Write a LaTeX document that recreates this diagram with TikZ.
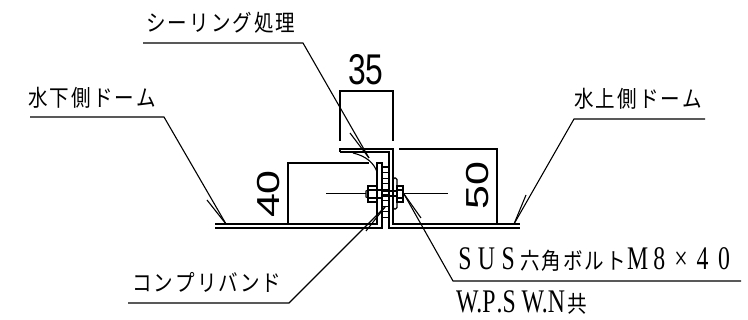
\documentclass[tikz,border=0pt]{standalone}
\usepackage{fontspec}
\setmainfont{Liberation Serif}
\newfontfamily\jpfont[FakeStretch=0.85]{Noto Sans CJK JP}
\newfontfamily\dimfont{Liberation Sans}
\newfontfamily\latinfont[FakeStretch=0.72]{Liberation Serif}
\makeatletter
\newcommand{\spreadtext}[2]{\@tfor\sp@ch:=#2\do{\makebox[#1]{\sp@ch}}}
\makeatother
\newcommand{\jpsize}{\fontsize{23}{23}\selectfont\jpfont}
\newcommand{\latinsize}{\fontsize{33}{33}\selectfont\latinfont}
\tikzset{
    leader/.style={draw, line width=1.1pt, line join=miter},
    thick line/.style={draw, line width=1.4pt},
    thin line/.style={draw, line width=1.1pt},
    label/.style={inner sep=0pt, anchor=west, font=\jpsize},
    dimtext/.style={inner sep=0pt, font=\fontsize{43}{43}\selectfont\dimfont},
}
\begin{document}
\begin{tikzpicture}[x=1pt,y=-1pt]
    \useasboundingbox (0,0) rectangle (748,320);
    % labels
    \node [label] (seal) at (145,23) {\spreadtext{21.6pt}{シーリング処理}};
    \node [label] (low) at (27,98) {\spreadtext{21.6pt}{水下側ドーム}};
    \node [label] (high) at (573,99) {\spreadtext{21.6pt}{水上側ドーム}};
    \node [label] (band) at (131,282) {\spreadtext{21.6pt}{コンプリバンド}};
    \node [label] (bolt) at (454,260) {\latinsize\spreadtext{21.6pt}{SUS}\jpsize\spreadtext{21.6pt}{六角ボルト}\latinsize\spreadtext{21.6pt}{M8×40}};
    \node [label] (wp) at (456,303) {\latinsize W.P\kern1pt.S\ W.N\kern2pt\jpsize 共};
    \node [dimtext, xscale=0.74] (d35) at (366,70) {35};
    \node [dimtext, xscale=0.74, rotate=90] (d40) at (268.5,194) {40};
    \node [dimtext, xscale=0.74, rotate=90] (d50) at (477.5,185.5) {50};
    % leaders
    \draw [leader] (143,43) coordinate (sealA) -- (303,43) coordinate (sealB) -- (369,158) coordinate (sealC);
    \draw [leader] (350,133) -- (sealC);
    \draw [leader] (30,117) coordinate (lowA) -- (164,117) coordinate (lowB) -- (226,224) coordinate (lowC);
    \draw [leader] (207,200) -- (lowC);
    \draw [leader] (705,119) coordinate (highA) -- (574,119) coordinate (highB) -- (514,224) coordinate (highC);
    \draw [leader] (526,195) -- (highC);
    \draw [leader] (128,303) coordinate (bandA) -- (289,303) coordinate (bandB) -- (385,207) coordinate (bandC);
    \draw [leader] (366,231) -- (bandC);
    \draw [leader] (741,281) coordinate (boltA) -- (453,281) coordinate (boltB) -- (404,194) coordinate (boltC);
    \draw [leader] (421,218) -- (boltC);
    % dimension lines
    \draw [thin line] (340,141) -- (340,91) -- (393,91) -- (393,141);
    \draw [thin line] (288,224) -- (288,163) -- (369,163);
    \draw [thin line] (399,149) -- (497,149) -- (497,224);
    \draw [thin line] (326,193.5) -- (366,193.5);
    \draw [thin line] (404,193.5) -- (448,193.5);
    % plates
    \draw [thick line] (215,224) -- (377,224) -- (377,163) -- (382,163) -- (382,228) -- (215,228);
    \draw [thick line] (340,152) -- (340,149) -- (393,149) -- (393,224) -- (520,224);
    \draw [thick line] (340,152) -- (389,152) -- (389,228) -- (520,228);
    \draw [thin line] (353,153) .. controls (366,156) and (374,163) .. (377,172);
    % compriband
    \foreach \y in {167,172.6,...,218} {
        \draw [thin line] (382,\y) -- (389,\y);
    }
    % bolt
    \draw [thin line] (368,186) rectangle (377,202);
    \draw [thin line] (368,190) -- (377,190) (368,198) -- (377,198);
    \draw [thin line] (368,190) -- (366,191) -- (366,197) -- (368,198);
    \draw [thin line] (377,190) rectangle (382,198);
    \draw [thin line] (382,191) -- (397,191) (382,196) -- (397,196);
    \draw [thin line, rounded corners=1.5pt] (393,178) rectangle (397,209);
    \draw [thin line] (397,186) rectangle (403,202);
    \draw [thin line] (397,190) -- (403,190) (397,198) -- (403,198);
\end{tikzpicture}
\end{document}
